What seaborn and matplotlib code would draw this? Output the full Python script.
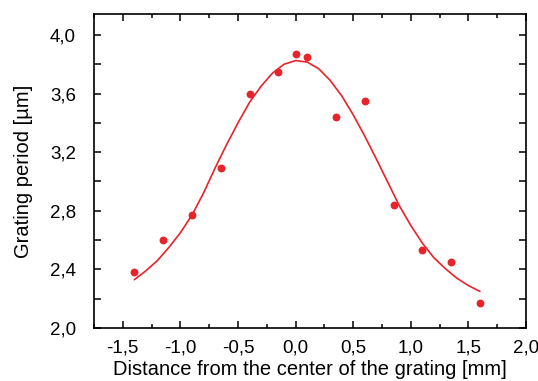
import numpy as np
import pandas as pd
import matplotlib
matplotlib.use("Agg")
import matplotlib.pyplot as plt
import seaborn as sns
from matplotlib.ticker import MultipleLocator, FuncFormatter

# measured points
distance = [-1.40, -1.15, -0.90, -0.65, -0.40, -0.15, 0.00, 0.10, 0.35, 0.60, 0.85, 1.10, 1.35, 1.60]
period = [2.38, 2.60, 2.77, 3.09, 3.60, 3.745, 3.87, 3.85, 3.44, 3.55, 2.84, 2.53, 2.45, 2.17]

# fitted curve
fit_x = [-1.4, -1.3, -1.2, -1.1, -1.0, -0.9, -0.8, -0.7, -0.6, -0.5, -0.4, -0.3, -0.2, -0.1, 0.0,
         0.1, 0.2, 0.3, 0.4, 0.5, 0.6, 0.7, 0.8, 0.9, 1.0, 1.1, 1.2, 1.3, 1.4, 1.5, 1.6]
fit_y = [2.33, 2.39, 2.46, 2.55, 2.65, 2.77, 2.92, 3.09, 3.25, 3.40, 3.54, 3.65, 3.74, 3.80, 3.825,
         3.815, 3.77, 3.69, 3.585, 3.455, 3.31, 3.155, 2.995, 2.835, 2.70, 2.58, 2.48, 2.405, 2.34, 2.29, 2.25]

sns.set_style("ticks")
plt.rcParams['font.family'] = ['Liberation Sans', 'DejaVu Sans']
plt.rcParams['text.color'] = 'black'
plt.rcParams['axes.labelcolor'] = 'black'

red = '#e8232a'
pts = pd.DataFrame({'x': distance, 'y': period})
fit = pd.DataFrame({'x': fit_x, 'y': fit_y})

fig = plt.figure(figsize=(5.38, 3.81), dpi=100)
ax = fig.add_axes([0.1747, 0.139, 0.803, 0.8243])

sns.lineplot(data=fit, x='x', y='y', ax=ax, color=red, linewidth=1.2, sort=False)
sns.scatterplot(data=pts, x='x', y='y', ax=ax, color=red, s=32, linewidth=0, zorder=3)

ax.set_xlim(-1.75, 2.0)
ax.set_ylim(2.0, 4.143)
ax.xaxis.set_major_locator(MultipleLocator(0.5))
ax.xaxis.set_minor_locator(MultipleLocator(0.25))
ax.yaxis.set_major_locator(MultipleLocator(0.4))
ax.yaxis.set_minor_locator(MultipleLocator(0.2))
comma = FuncFormatter(lambda v, p: f'{v:.1f}'.replace('.', ','))
ax.xaxis.set_major_formatter(comma)
ax.yaxis.set_major_formatter(comma)

ax.tick_params(which='both', direction='in', top=True, right=True, width=1.1, labelsize=13.5, colors='black')
ax.tick_params(which='major', length=5)
ax.tick_params(axis='x', which='major', pad=8)
ax.tick_params(axis='y', which='major', pad=13)
ax.tick_params(axis='x', which='minor', length=3)
ax.tick_params(axis='y', which='minor', length=5)
for s in ax.spines.values():
    s.set_linewidth(1.2)
    s.set_color('black')

ax.set_xlabel('Distance from the center of the grating [mm]', fontsize=14.5, labelpad=2.5)
ax.set_ylabel('Grating period [µm]', fontsize=14.5, labelpad=12)

fig.savefig('out.png', dpi=100)
